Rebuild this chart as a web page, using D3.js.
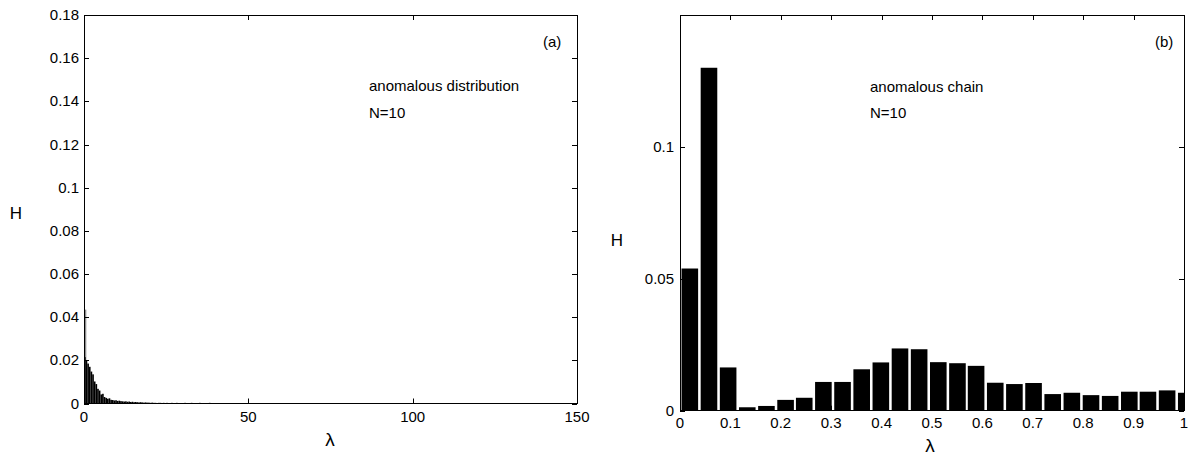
<!DOCTYPE html>
<html>
<head>
<meta charset="utf-8">
<script src="https://cdn.jsdelivr.net/npm/d3@7"></script>
<style>
  html, body { margin: 0; padding: 0; background: #fff; }
  svg text { font-family: "Liberation Sans", Arial, sans-serif; fill: #000; }
</style>
</head>
<body>
<svg id="chart" width="1195" height="462"></svg>
<script>
// ---------------- Data ----------------
// Panel (a): anomalous distribution, histogram of λ (bin width 0.5, starting at 0)
const aBinWidth = 0.5;
const aSpike = [{ x: 0.0, w: 0.7, v: 0.0435 }];
const aValues = [
  0.0215, 0.0200, 0.0185, 0.0170, 0.0148, 0.0135, 0.0102, 0.0090, 0.0068, 0.0060,
  0.0042, 0.0045, 0.0030, 0.0026, 0.0022, 0.0024, 0.0017, 0.0016, 0.0014, 0.0015,
  0.0012, 0.0013, 0.0011, 0.0010, 0.0009, 0.0010, 0.0008, 0.0009, 0.0007, 0.0008,
  0.0006, 0.0007, 0.0006, 0.0005, 0.0006, 0.0005, 0.0004, 0.0005, 0.0004, 0.0004,
  0.0003, 0.0004, 0.0003, 0.0003, 0.0002, 0.0003, 0.0003, 0.0002, 0.0003, 0.0002,
  0.0003, 0.0002, 0.0002, 0.0003, 0.0002, 0.0002, 0.0003, 0.0002, 0.0002, 0.0002,
  0.0002, 0.0003, 0.0002, 0.0002, 0.0002, 0.0003, 0.0002, 0.0002, 0.0002, 0.0002,
  0.0003, 0.0002, 0.0002, 0.0002, 0.0002, 0.0002, 0.0003, 0.0002, 0.0002, 0.0002
];
const aXTicks = [0, 50, 100, 150];
const aYTicks = [0, 0.02, 0.04, 0.06, 0.08, 0.1, 0.12, 0.14, 0.16, 0.18];

// Panel (b): anomalous chain
const bBinWidth = 0.0379;
const bCenters = [
  0.019, 0.057, 0.095, 0.133, 0.171, 0.209, 0.246, 0.284, 0.322, 0.360,
  0.398, 0.436, 0.474, 0.512, 0.550, 0.587, 0.625, 0.663, 0.701, 0.739,
  0.777, 0.815, 0.853, 0.891, 0.928, 0.966, 1.004
];
const bValues = [
  0.0539, 0.1300, 0.0164, 0.0013, 0.0018, 0.0041, 0.0049, 0.0109, 0.0109, 0.0157,
  0.0183, 0.0236, 0.0233, 0.0184, 0.0180, 0.0170, 0.0106, 0.0101, 0.0105, 0.0063,
  0.0068, 0.0059, 0.0056, 0.0072, 0.0072, 0.0077, 0.0068
];
const bXTicks = [0, 0.1, 0.2, 0.3, 0.4, 0.5, 0.6, 0.7, 0.8, 0.9, 1];
const bYTicks = [0, 0.05, 0.1];

// ---------------- Drawing ----------------
const svg = d3.select("#chart");
svg.append("rect").attr("width", 1195).attr("height", 462).attr("fill", "#fff");

function fmt(v) {
  if (v === 0) return "0";
  return String(+v.toFixed(4));
}

function frame(g, x, y, xTicks, yTicks, tickLen) {
  const [x0, x1] = x.range();
  const [y0, y1] = y.range(); // y0 bottom, y1 top
  const axis = g.append("g").attr("stroke", "#000").attr("stroke-width", 1).attr("fill", "none");
  axis.append("rect")
    .attr("x", x0).attr("y", y1).attr("width", x1 - x0).attr("height", y0 - y1)
    .attr("shape-rendering", "crispEdges");
  xTicks.forEach(t => {
    const px = Math.round(x(t)) + 0.5;
    axis.append("line").attr("x1", px).attr("x2", px).attr("y1", y0).attr("y2", y0 - tickLen);
    axis.append("line").attr("x1", px).attr("x2", px).attr("y1", y1).attr("y2", y1 + tickLen);
  });
  yTicks.forEach(t => {
    const py = Math.round(y(t)) + 0.5;
    axis.append("line").attr("x1", x0).attr("x2", x0 + tickLen).attr("y1", py).attr("y2", py);
    axis.append("line").attr("x1", x1).attr("x2", x1 - tickLen).attr("y1", py).attr("y2", py);
  });
}

function labels(g, x, y, xTicks, yTicks, xLabY, yLabX) {
  g.selectAll(".xl").data(xTicks).enter().append("text")
    .attr("x", d => x(d)).attr("y", xLabY)
    .attr("text-anchor", "middle").attr("font-size", 15).text(fmt);
  g.selectAll(".yl").data(yTicks).enter().append("text")
    .attr("x", yLabX).attr("y", d => y(d) + 5)
    .attr("text-anchor", "end").attr("font-size", 15).text(fmt);
}

// ----- Panel (a)
{
  const g = svg.append("g");
  const x = d3.scaleLinear().domain([0, 150]).range([84, 577]);
  const y = d3.scaleLinear().domain([0, 0.18]).range([403.5, 15]);

  g.selectAll(".spike").data(aSpike).enter().append("rect")
    .attr("x", d => x(d.x)).attr("width", d => x(d.w) - x(0))
    .attr("y", d => y(d.v)).attr("height", d => y(0) - y(d.v))
    .attr("fill", "#8c8c8c");
  g.selectAll(".bar").data(aValues).enter().append("rect")
    .attr("x", (d, i) => x(i * aBinWidth))
    .attr("width", x(aBinWidth) - x(0))
    .attr("y", d => y(d)).attr("height", d => y(0) - y(d))
    .attr("fill", "#000");

  frame(g, x, y, aXTicks, aYTicks, 5);
  labels(g, x, y, aXTicks, aYTicks, 422, 79);

  g.append("text").attr("x", 543).attr("y", 47).attr("font-size", 15).text("(a)");
  g.append("text").attr("x", 369).attr("y", 91).attr("font-size", 15).text("anomalous distribution");
  g.append("text").attr("x", 369).attr("y", 118).attr("font-size", 15).text("N=10");
  g.append("text").attr("x", 16).attr("y", 219).attr("font-size", 17).attr("text-anchor", "middle").text("H");
  g.append("text").attr("x", 330).attr("y", 446).attr("font-size", 19).attr("text-anchor", "middle").text("λ");
}

// ----- Panel (b)
{
  const g = svg.append("g");
  const x = d3.scaleLinear().domain([0, 1]).range([680, 1184]);
  const y = d3.scaleLinear().domain([0, 0.15]).range([410.7, 15]);
  const clipId = "clipb";
  svg.append("defs").append("clipPath").attr("id", clipId)
    .append("rect").attr("x", 680).attr("y", 15).attr("width", 504).attr("height", 396);

  g.append("g").attr("clip-path", `url(#${clipId})`)
    .selectAll("rect").data(bValues).enter().append("rect")
    .attr("x", (d, i) => x(bCenters[i] - bBinWidth / 2) + 1.5)
    .attr("width", x(bBinWidth) - x(0) - 2.5)
    .attr("y", d => y(d)).attr("height", d => y(0) - y(d))
    .attr("fill", "#000");

  frame(g, x, y, bXTicks, bYTicks, 5);
  labels(g, x, y, bXTicks, bYTicks, 428, 674);

  g.append("text").attr("x", 1155).attr("y", 47).attr("font-size", 15).text("(b)");
  g.append("text").attr("x", 870).attr("y", 92).attr("font-size", 15).text("anomalous chain");
  g.append("text").attr("x", 870).attr("y", 118).attr("font-size", 15).text("N=10");
  g.append("text").attr("x", 617).attr("y", 246).attr("font-size", 17).attr("text-anchor", "middle").text("H");
  g.append("text").attr("x", 930).attr("y", 452).attr("font-size", 19).attr("text-anchor", "middle").text("λ");
}
</script>
</body>
</html>
